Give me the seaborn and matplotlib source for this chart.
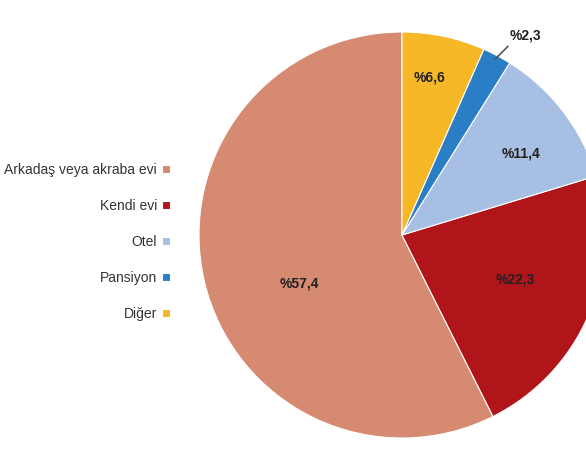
import numpy as np
import matplotlib
matplotlib.use("Agg")
import matplotlib.pyplot as plt
import seaborn as sns

# ── data ────────────────────────────────────────────────
categories = ["Arkadaş veya akraba evi", "Kendi evi", "Otel", "Pansiyon", "Diğer"]
shares = [57.4, 22.3, 11.4, 2.3, 6.6]
pct_labels = ["%57,4", "%22,3", "%11,4", "%2,3", "%6,6"]

# ── style ───────────────────────────────────────────────
sns.set_theme(style="white")
plt.rcParams["font.family"] = ["Liberation Sans", "DejaVu Sans"]
colors = ["#D68A72", "#B01519", "#A6BFE2", "#2A7EC6", "#F6B826"]
label_dist = [0.56, 0.60, 0.71, None, 0.79]
label_shift = [12, 2, -3, 0, 2]   # degrees, nudges like the source chart

fig = plt.figure(figsize=(5.86, 4.54), dpi=100)
ax = fig.add_axes([199 / 586, 16 / 454, 406 / 586, 406 / 454])

wedges, _ = ax.pie(shares, colors=colors, startangle=90, counterclock=True,
                   radius=1.0, wedgeprops=dict(edgecolor="white", linewidth=0.8))
ax.set_xlim(-1, 1)
ax.set_ylim(-1, 1)
ax.set_aspect("equal")
ax.axis("off")

for w, lab, d, sh in zip(wedges, pct_labels, label_dist, label_shift):
    mid = np.deg2rad((w.theta1 + w.theta2) / 2 + sh)
    if d is None:
        # small slice: label outside with leader line
        ax.annotate(lab, xy=(np.cos(mid) * 0.98, np.sin(mid) * 0.98),
                    xytext=(0.53, 0.985), textcoords="data",
                    ha="left", va="center", fontsize=10, fontweight="bold",
                    color="#222222",
                    arrowprops=dict(arrowstyle="-", color="#555555", lw=1.2,
                                    shrinkA=1, shrinkB=0, relpos=(0, 0.5),
                                    connectionstyle="angle,angleA=180,angleB=45,rad=0"),
                    annotation_clip=False)
    else:
        ax.text(np.cos(mid) * d, np.sin(mid) * d, lab, ha="center", va="center",
                fontsize=10, fontweight="bold", color="#222222")

fig.legend(wedges, categories, loc="center right",
           bbox_to_anchor=(182 / 586, (454 - 242) / 454),
           markerfirst=False, frameon=False, fontsize=10,
           handlelength=0.55, handleheight=0.55, handletextpad=0.35,
           labelspacing=1.59, labelcolor="#333333")

fig.savefig("out.png", dpi=100, facecolor="white")
